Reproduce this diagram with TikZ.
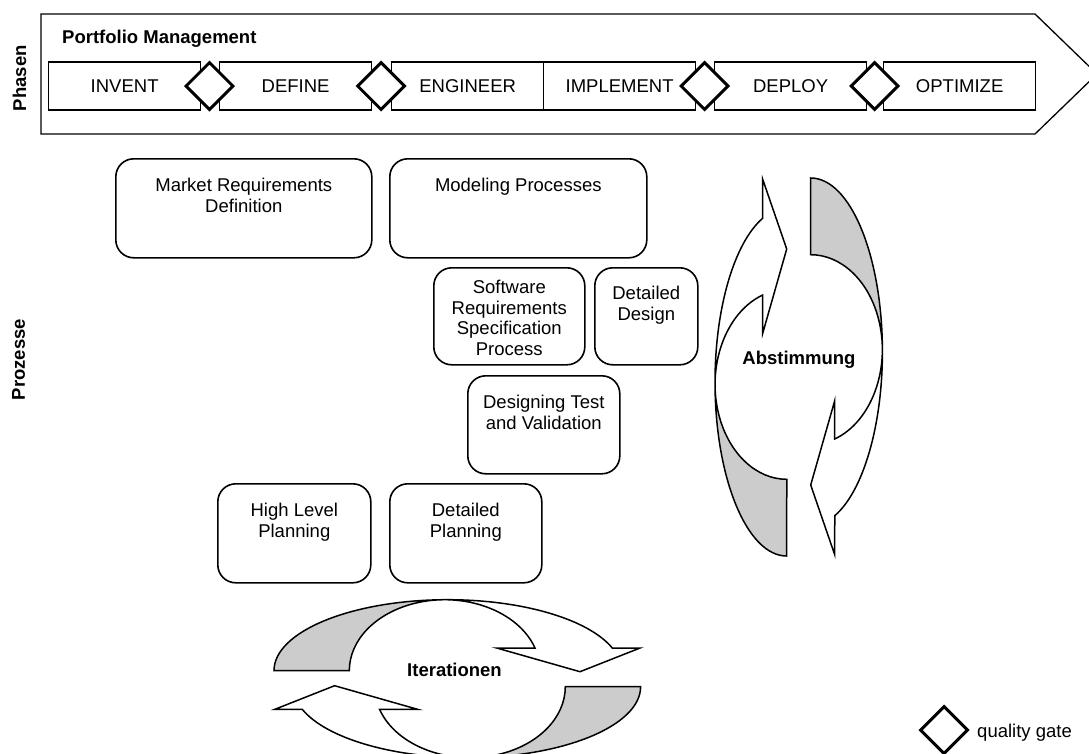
\documentclass[tikz,border=0pt]{standalone}
\usepackage{fontspec}
\setmainfont{Liberation Sans}
\usetikzlibrary{shapes.geometric}
\definecolor{bandgray}{RGB}{204,204,204}
\begin{document}
\begin{tikzpicture}[x=1pt,y=1pt,
  lbl/.style={font=\fontsize{18.5}{20.7}\selectfont, inner sep=0pt, align=center},
  boldlbl/.style={inner sep=0pt, font=\fontsize{18.5}{20.7}\selectfont\bfseries},
  phasebox/.style={draw, line width=1.3pt, minimum width=152pt, minimum height=48pt,
    inner sep=0pt, anchor=west, font=\fontsize{18.5}{20.7}\selectfont},
  gate/.style={diamond, draw, line width=3pt, fill=white, minimum width=48pt,
    minimum height=48pt, inner sep=0pt, aspect=1},
  procbox/.style={draw, line width=1.6pt, rounded corners=18pt, anchor=north west, inner sep=0pt},
  proctext/.style={lbl, anchor=north},
  bandline/.style={draw, line width=1.5pt, line join=miter},
  bandshade/.style={fill=bandgray},
]
\useasboundingbox (0,0) rectangle (1089,-753);
\clip (0,0) rectangle (1089,-753);

% ---- phase banner ----
\draw[line width=1.3pt] (41,-14) -- (1035,-14) -- (1097,-74) -- (1035,-134) -- (41,-134) -- cycle;
\node[boldlbl, rotate=90] (phasen) at (19.5,-78.3) {Phasen};
\node[boldlbl, anchor=base west] (pm) at (62,-43) {Portfolio Management};

\node[phasebox] (invent)    at (48,-86)  {INVENT};
\node[phasebox] (define)    at (219,-86) {DEFINE};
\node[phasebox] (engineer)  at (391,-86) {ENGINEER};
\node[phasebox] (implement) at (543,-86) {IMPLEMENT};
\node[phasebox] (deploy)    at (714,-86) {DEPLOY};
\node[phasebox] (optimize)  at (883,-86) {OPTIMIZE};

\node[gate] (g1) at (209.5,-86) {};
\node[gate] (g2) at (381,-86) {};
\node[gate] (g3) at (704.5,-86) {};
\node[gate] (g4) at (874.5,-86) {};

% ---- processes ----
\node[boldlbl, rotate=90] (prozesse) at (18.5,-359.5) {Prozesse};

\node[procbox, minimum width=256pt, minimum height=99pt] (mrd) at (115,-158) {};
\node[proctext] (mrdT) at ([yshift=-20pt]mrd.north) {Market Requirements\\Definition};

\node[procbox, minimum width=257pt, minimum height=99pt] (mod) at (389,-158) {};
\node[proctext] (modT) at ([yshift=-20pt]mod.north) {Modeling Processes};

\node[procbox, minimum width=151pt, minimum height=97pt] (srs) at (433,-267) {};
\node[proctext] (srsT) at ([yshift=-13pt]srs.north) {Software\\Requirements\\Specification\\Process};

\node[procbox, minimum width=103pt, minimum height=97pt] (dd) at (594,-267) {};
\node[proctext] (ddT) at ([yshift=-19pt]dd.north) {Detailed\\Design};

\node[procbox, minimum width=152pt, minimum height=98pt] (dtv) at (467,-375) {};
\node[proctext] (dtvT) at ([yshift=-20pt]dtv.north) {Designing Test\\and Validation};

\node[procbox, minimum width=153pt, minimum height=99pt] (hlp) at (217,-483) {};
\node[proctext] (hlpT) at ([yshift=-20pt]hlp.north) {High Level\\Planning};

\node[procbox, minimum width=152pt, minimum height=99pt] (dp) at (389,-483) {};
\node[proctext] (dpT) at ([yshift=-20pt]dp.north) {Detailed\\Planning};

% ---- Abstimmung: two curved arrows forming a vertical cycle ----
\foreach \ang in {0,180}{
\begin{scope}[rotate around={\ang:(798.7,-367)}]
  \fill[bandshade] (786.7,-556) arc[start angle=270,end angle=180,x radius=71.7,y radius=173.9]
    -- (715,-384.4) arc[start angle=180,end angle=270,x radius=71.7,y radius=94.9] -- cycle;
  \draw[bandline] (786.7,-556) arc[start angle=270,end angle=109.6,x radius=71.7,y radius=173.9]
    -- (762.7,-179.3) -- (786.7,-249) -- (762.7,-333.3) -- (762.7,-295)
    arc[start angle=109.6,end angle=270,x radius=71.7,y radius=94.9] -- cycle;
\end{scope}}
\node[boldlbl] (abst) at (799,-360) {Abstimmung};

% ---- Iterationen: two curved arrows forming a horizontal cycle ----
\foreach \ang in {0,180}{
\begin{scope}[rotate around={\ang:(457.3,-678.7)}]
  \fill[bandshade] (274,-670.7) arc[start angle=180,end angle=90,x radius=173.7,y radius=71]
    -- (444.65,-599.7) arc[start angle=90,end angle=180,x radius=95.35,y radius=71] -- cycle;
  \draw[bandline] (274,-670.7) arc[start angle=180,end angle=18.65,x radius=173.7,y radius=71]
    -- (640,-648) -- (580,-671.7) -- (496.7,-648) -- (535,-648)
    arc[start angle=18.65,end angle=180,x radius=95.35,y radius=71] -- cycle;
\end{scope}}
\node[boldlbl] (iter) at (454.5,-670) {Iterationen};

% ---- legend ----
\node[gate] (legendgate) at (944,-730) {};
\node[lbl, anchor=base west] (legendtext) at (977,-737) {quality gate};
\end{tikzpicture}
\end{document}
